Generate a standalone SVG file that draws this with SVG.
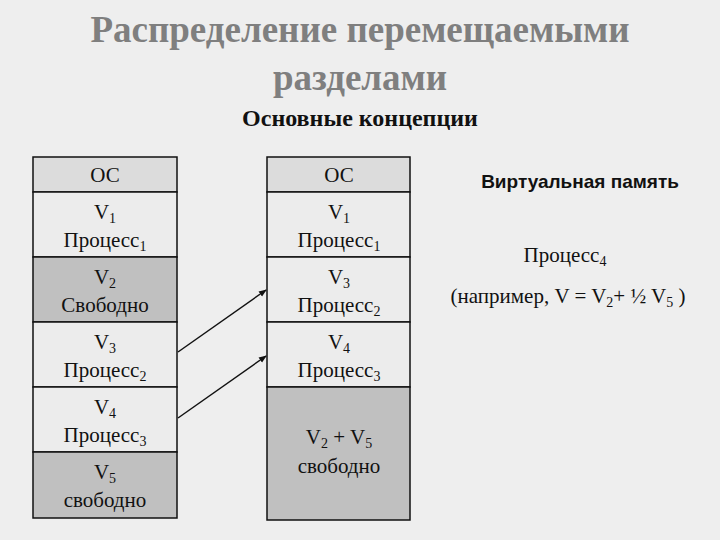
<svg xmlns="http://www.w3.org/2000/svg" width="720" height="540" viewBox="0 0 720 540">
<style>
text{font-family:"Liberation Serif",serif;text-anchor:middle;fill:#111}
.t{font-weight:bold;font-size:37px;fill:#7f7f7f}
.c{font-size:21px}
.s{font-size:14px}
.os{fill:#dcdcdc;stroke:#111;stroke-width:1.5}
.p{fill:#ececec;stroke:#111;stroke-width:1.5}
.f{fill:#c0c0c0;stroke:#111;stroke-width:1.5}
</style>
<defs><marker id="a" markerWidth="8" markerHeight="8" refX="7" refY="4" orient="auto" markerUnits="userSpaceOnUse"><path d="M0,1 L8,4 L0,7 Z" fill="#111"/></marker></defs>
<rect width="720" height="540" fill="#eeeeee"/>
<text class="t" x="360" y="42">Распределение перемещаемыми</text>
<text class="t" x="360" y="90">разделами</text>
<text x="360" y="126" style="font-weight:bold;font-size:24px">Основные концепции</text>
<g id="left">
<rect class="os" x="33" y="157" width="144" height="35"/><text class="c" x="105" y="182">ОС</text>
<rect class="p" x="33" y="192" width="144" height="65"/><text class="c" x="105" y="219">V<tspan class="s" dy="4">1</tspan></text><text class="c" x="105" y="247">Процесс<tspan class="s" dy="4">1</tspan></text>
<rect class="f" x="33" y="257" width="144" height="65"/><text class="c" x="105" y="284">V<tspan class="s" dy="4">2</tspan></text><text class="c" x="105" y="312">Свободно</text>
<rect class="p" x="33" y="322" width="144" height="65"/><text class="c" x="105" y="349">V<tspan class="s" dy="4">3</tspan></text><text class="c" x="105" y="377">Процесс<tspan class="s" dy="4">2</tspan></text>
<rect class="p" x="33" y="387" width="144" height="65"/><text class="c" x="105" y="414">V<tspan class="s" dy="4">4</tspan></text><text class="c" x="105" y="442">Процесс<tspan class="s" dy="4">3</tspan></text>
<rect class="f" x="33" y="452" width="144" height="66"/><text class="c" x="105" y="479">V<tspan class="s" dy="4">5</tspan></text><text class="c" x="105" y="507">свободно</text>
</g>
<g id="right">
<rect class="os" x="267" y="157" width="143" height="35"/><text class="c" x="339" y="182">ОС</text>
<rect class="p" x="267" y="192" width="143" height="65"/><text class="c" x="339" y="219">V<tspan class="s" dy="4">1</tspan></text><text class="c" x="339" y="247">Процесс<tspan class="s" dy="4">1</tspan></text>
<rect class="p" x="267" y="257" width="143" height="65"/><text class="c" x="339" y="284">V<tspan class="s" dy="4">3</tspan></text><text class="c" x="339" y="312">Процесс<tspan class="s" dy="4">2</tspan></text>
<rect class="p" x="267" y="322" width="143" height="65"/><text class="c" x="339" y="349">V<tspan class="s" dy="4">4</tspan></text><text class="c" x="339" y="377">Процесс<tspan class="s" dy="4">3</tspan></text>
<rect class="f" x="267" y="387" width="143" height="133"/><text class="c" x="339" y="444">V<tspan class="s" dy="4">2</tspan><tspan dy="-4">  + V</tspan><tspan class="s" dy="4">5</tspan></text><text class="c" x="339" y="473">свободно</text>
</g>
<g id="vm">
<text x="580" y="188" style="font-weight:bold;font-size:19px;font-family:'Liberation Sans',sans-serif">Виртуальная память</text>
<text class="c" x="565" y="262">Процесс<tspan class="s" dy="4">4</tspan></text>
<text class="c" x="568" y="303">(например, V = V<tspan class="s" dy="4">2</tspan><tspan dy="-4">+ ½ V</tspan><tspan class="s" dy="4">5</tspan><tspan dy="-4"> )</tspan></text>
</g>
<g id="connectors" stroke="#111" stroke-width="1.5">
<line x1="178" y1="352" x2="266" y2="290" marker-end="url(#a)"/>
<line x1="178" y1="418" x2="266" y2="356" marker-end="url(#a)"/>
</g>
</svg>
